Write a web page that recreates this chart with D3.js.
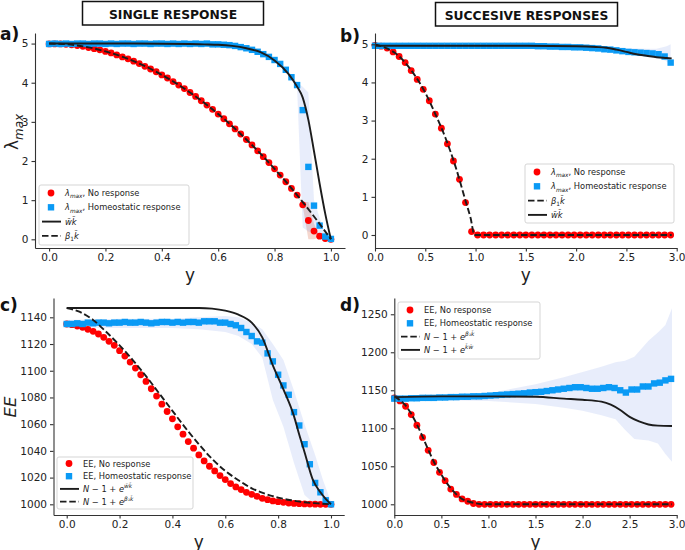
<!DOCTYPE html>
<html><head><meta charset="utf-8">
<script src="https://cdn.jsdelivr.net/npm/d3@7"></script>
<style>
body{margin:0;background:#fff;}
text{font-family:"DejaVu Sans",sans-serif;}
</style></head><body>
<svg id="chart" width="685" height="550"></svg>
<script>
// ---------------- DATA ----------------
const titles = ["SINGLE RESPONSE", "SUCCESIVE RESPONSES"];
const panelLabels = ["a)", "b)", "c)", "d)"];

// x grids
const xA = [0,0.02,0.04,0.06,0.08,0.1,0.12,0.14,0.16,0.18,0.2,0.22,0.24,0.26,0.28,0.3,0.32,0.34,0.36,0.38,0.4,0.42,0.44,0.46,0.48,0.5,0.52,0.54,0.56,0.58,0.6,0.62,0.64,0.66,0.68,0.7,0.72,0.74,0.76,0.78,0.8,0.82,0.84,0.86,0.88,0.9,0.92,0.94,0.96,0.98,1.0];
const xB = [0,0.06,0.12,0.18,0.24,0.3,0.36,0.42,0.48,0.54,0.6,0.66,0.72,0.78,0.84,0.9,0.96,1.02,1.08,1.14,1.2,1.26,1.32,1.38,1.44,1.5,1.56,1.62,1.68,1.74,1.8,1.86,1.92,1.98,2.04,2.1,2.16,2.22,2.28,2.34,2.4,2.46,2.52,2.58,2.64,2.7,2.76,2.82,2.88,2.94];

// panel a : lambda_max, single response
const redA = [4.99,4.99,4.99,4.98,4.97,4.95,4.93,4.90,4.87,4.84,4.80,4.76,4.71,4.66,4.61,4.55,4.49,4.42,4.35,4.28,4.20,4.12,4.03,3.94,3.85,3.75,3.65,3.54,3.43,3.32,3.20,3.08,2.95,2.82,2.69,2.55,2.41,2.26,2.11,1.96,1.80,1.64,1.47,1.30,1.13,0.88,0.48,0.21,0.08,0.02,0.00];
const blueA = [4.99,5.0,4.99,5.0,4.99,5.0,5.0,4.99,5.0,5.0,4.99,5.0,4.99,5.0,5.0,4.99,5.0,5.0,4.99,5.0,5.0,4.99,5.0,4.99,5.0,4.99,5.0,4.99,5.0,4.98,4.98,4.97,4.96,4.94,4.91,4.88,4.84,4.79,4.73,4.66,4.58,4.48,4.33,4.14,3.94,3.30,1.85,0.86,0.35,0.07,0.01];
const bandAx = [0,0.5,0.6,0.7,0.8,0.84,0.86,0.88,0.9,0.92,0.94,0.96,0.98,1.0];
const bandAlo = [4.96,4.96,4.95,4.85,4.55,4.3,4.1,3.85,0.3,0.2,0.15,0.1,0.02,0];
const bandAhi = [5.04,5.04,5.02,4.92,4.62,4.37,4.2,4.0,3.9,3.75,1.0,0.55,0.12,0.02];
const bandRAx = [0.88,0.9,0.92,0.94,0.96];
const bandRAlo = [1.13,0.85,0.0,0.0,0.05];
const bandRAhi = [1.13,0.95,0.95,0.4,0.1];
const solidAx = [0,0.3,0.5,0.55,0.6,0.65,0.7,0.75,0.8,0.85,0.88,0.9,0.92,0.94,0.96,0.98,1.0];
const solidAy = [5,5,4.99,4.98,4.97,4.94,4.88,4.78,4.57,4.22,3.9,3.62,3.05,2.25,1.42,0.65,0];
const dashAx = [0,0.05,0.1,0.15,0.2,0.25,0.3,0.35,0.4,0.45,0.5,0.55,0.6,0.65,0.7,0.75,0.8,0.85,0.9,0.95,1.0];
const dashAy = [5,4.99,4.95,4.89,4.8,4.69,4.55,4.39,4.2,3.99,3.75,3.49,3.2,2.89,2.55,2.19,1.8,1.39,0.95,0.49,0];

// panel b : lambda_max, successive responses
const redB = [4.97,4.95,4.9,4.8,4.68,4.52,4.31,4.08,3.82,3.52,3.17,2.80,2.39,1.94,1.46,0.85,0.09,0,0,0,0,0,0,0,0,0,0,0,0,0,0,0,0,0,0,0,0,0,0,0,0,0,0,0,0,0,0,0,0,0];
const blueB = [4.96,4.96,4.96,4.96,4.96,4.96,4.96,4.96,4.96,4.96,4.96,4.96,4.96,4.96,4.96,4.96,4.96,4.96,4.96,4.96,4.96,4.96,4.96,4.96,4.96,4.96,4.96,4.95,4.95,4.94,4.94,4.93,4.93,4.92,4.92,4.91,4.9,4.89,4.87,4.86,4.84,4.82,4.8,4.79,4.78,4.77,4.76,4.74,4.68,4.52];
const bandBx = [0,2.0,2.5,2.7,2.8,2.9,2.94];
const bandBlo = [4.93,4.88,4.76,4.72,4.68,4.55,4.45];
const bandBhi = [4.99,4.96,4.9,4.88,4.88,4.95,5.0];
const solidBx = [0,0.5,1.0,1.5,2.0,2.2,2.3,2.4,2.5,2.6,2.7,2.8,2.9,2.95];
const solidBy = [4.96,4.96,4.96,4.96,4.95,4.93,4.91,4.86,4.8,4.74,4.7,4.66,4.64,4.63];
const dashBx = [0,0.1,0.2,0.3,0.4,0.5,0.6,0.7,0.8,0.9,0.95,0.99,1.5,2.95];
const dashBy = [5.0,4.91,4.77,4.52,4.17,3.73,3.17,2.55,1.8,0.9,0.45,0,0,0];

// panel c : EE, single response
const redC = [1135,1134.5,1133.5,1132.5,1131,1129.5,1127.5,1125,1122,1119,1115,1111,1106.5,1102,1097,1092,1086.5,1081,1075,1069.5,1064,1058,1052.5,1047,1042,1037,1032.5,1028.5,1025,1021.5,1018.5,1015.5,1013,1011,1009,1007.5,1006,1004.5,1003.5,1002.5,1002,1001.5,1001,1000.7,1000.5,1000.3,1000.2,1000.1,1000,1000,1000];
const blueC = [1135,1135,1135.5,1135,1136,1135.5,1136,1136,1135.5,1136,1136,1136.5,1136,1136,1136.5,1136,1135.5,1136,1136.5,1136.5,1136,1136.5,1136,1136.5,1136.5,1136,1137,1137,1137,1136,1136,1135,1134,1132,1129,1126,1122,1121,1113,1107,1097,1089,1082,1069,1059,1045,1030,1016,1009,1003,1000];
const bandCx = [0,0.2,0.4,0.5,0.6,0.65,0.7,0.74,0.78,0.82,0.86,0.9,0.94,0.97,1.0];
const bandClo = [1132,1132,1132,1131,1129,1126,1120,1110,1078,1058,1031,1007,1000,1000,999];
const bandChi = [1138,1139,1139,1140,1141,1140,1136,1131,1120,1108,1085,1060,1037,1018,1002];
const solidCx = [0,0.3,0.5,0.55,0.6,0.65,0.7,0.74,0.78,0.82,0.86,0.88,0.9,0.93,0.96,0.98,1.0];
const solidCy = [1147,1147,1147,1146.5,1145,1142,1136,1125,1104,1086,1066,1052,1039,1019,1009,1004,1000];
const dashCx = [0,0.05,0.1,0.15,0.2,0.25,0.3,0.35,0.4,0.45,0.5,0.55,0.6,0.65,0.7,0.75,0.8,0.85,0.9,0.95,1.0];
const dashCy = [1147,1144,1138,1129,1119,1108,1096,1083,1070,1057,1045,1034,1025,1018,1012,1008,1005,1003,1001.5,1000.7,1000];

// panel d : EE, successive responses
const redD = [1140,1136,1129,1118,1104,1088,1071,1055,1042,1031,1020,1013,1007,1004,1001,1000,1000,1000,1000,1000,1000,1000,1000,1000,1000,1000,1000,1000,1000,1000,1000,1000,1000,1000,1000,1000,1000,1000,1000,1000,1000,1000,1000,1000,1000,1000,1000,1000,1000,1000];
const blueD = [1139,1139,1139,1139.5,1139.5,1140,1140,1140,1140.5,1140.5,1141,1141,1141.5,1141.5,1142,1142,1142.5,1143,1143.5,1144,1144.5,1145,1145.5,1146,1147,1147.5,1148,1149,1150,1151,1152,1153,1154,1154,1153,1152,1152,1153,1154,1153,1150,1147,1151,1151,1155,1155,1159,1160,1163,1165];
const bandDx = [0,0.5,1.0,1.5,1.8,2.0,2.2,2.35,2.45,2.55,2.7,2.8,2.88,2.95];
const bandDlo = [1137,1137,1136,1132,1127,1123,1117,1112,1098,1086,1084,1080,1066,1056];
const bandDhi = [1142,1143,1146,1158,1167,1174,1181,1187,1189,1194,1215,1226,1236,1258];
const solidDx = [0,0.5,1.0,1.5,1.8,2.0,2.2,2.3,2.4,2.5,2.6,2.7,2.8,2.95];
const solidDy = [1141,1142,1142,1141.5,1139,1137.5,1135,1131,1124,1115,1109,1105,1103.5,1103];
const dashDx = [0,0.06,0.12,0.18,0.24,0.3,0.36,0.42,0.48,0.54,0.6,0.66,0.72,0.78,0.84,0.9,0.96,1.02,2.95];
const dashDy = [1142,1137,1130,1119,1105,1089,1072,1056,1043,1031,1021,1013,1007,1004,1002,1000.5,1000,1000,1000];

// ticks
const xTicksA = [0,0.2,0.4,0.6,0.8,1.0];
const xTicksB = [0,0.5,1.0,1.5,2.0,2.5,3.0];
const yTicksA = [0,1,2,3,4,5];
const yTicksC = [1000,1020,1040,1060,1080,1100,1120,1140];
const yTicksD = [1000,1050,1100,1150,1200,1250];

// legend labels (segments: t text, it italic, sub / sup)
const L = {
  lamNo: [{t:"λ",it:1},{t:"max",it:1,sub:1},{t:", No response"}],
  lamHo: [{t:"λ",it:1},{t:"max",it:1,sub:1},{t:", Homeostatic response"}],
  wk: [{t:"w\u0304k\u0304",it:1}],
  bk: [{t:"β",it:1},{t:"1",sub:1},{t:"k\u0304",it:1}],
  eeNo: [{t:"EE, No response"}],
  eeHo: [{t:"EE, Homeostatic response"}],
  eWk: [{t:"N",it:1},{t:" − 1 + "},{t:"e",it:1},{t:"w\u0304k\u0304",it:1,sup:1}],
  eBk: [{t:"N",it:1},{t:" − 1 + "},{t:"e",it:1},{t:"β\u2081k\u0304",it:1,sup:1}],
  eKw: [{t:"N",it:1},{t:" − 1 + "},{t:"e",it:1},{t:"k\u0304w\u0304",it:1,sup:1}]
};

// ---------------- DRAWING ----------------
const RED = "#ff0000", BLUE = "#0a9af5", BAND = "#4169e1", RBAND = "#d9603b", INK = "#1c1c1c";
const svg = d3.select("#chart");

function richText(sel, segs, fs) {
  let shift = 0;
  segs.forEach(s => {
    const target = s.sub ? fs * 0.28 : s.sup ? -fs * 0.45 : 0;
    const ts = sel.append("tspan").text(s.t).attr("dy", target - shift);
    shift = target;
    if (s.sub || s.sup) ts.attr("font-size", fs * 0.7);
    if (s.it) ts.attr("font-style", "italic");
  });
}

function drawPanel(p) {
  const x = d3.scaleLinear().domain(p.xDomain).range(p.xRange);
  const y = d3.scaleLinear().domain(p.yDomain).range(p.yRange);
  const g = svg.append("g");

  p.bands.forEach(b => {
    const area = d3.area().x((d, i) => x(b.x[i])).y0((d, i) => y(b.lo[i])).y1((d, i) => y(b.hi[i]));
    g.append("path").datum(b.x).attr("d", area).attr("fill", b.color).attr("fill-opacity", b.op);
  });

  g.append("g").selectAll("circle").data(p.red).join("circle")
    .attr("cx", (d, i) => x(p.xs[i])).attr("cy", d => y(d)).attr("r", 3.4).attr("fill", RED);
  const s = 6.4;
  g.append("g").selectAll("rect").data(p.blue).join("rect")
    .attr("x", (d, i) => x(p.xs[i]) - s / 2).attr("y", d => y(d) - s / 2)
    .attr("width", s).attr("height", s).attr("fill", BLUE);

  p.lines.forEach(l => {
    const line = d3.line().x((d, i) => x(l.x[i])).y(d => y(d)).curve(d3.curveMonotoneX);
    g.append("path").datum(l.y).attr("d", line).attr("fill", "none")
      .attr("stroke", INK).attr("stroke-width", 1.9)
      .attr("stroke-dasharray", l.dash ? "6.5,2.8" : null);
  });

  const xa = g.append("g").attr("transform", `translate(0,${p.yRange[0]})`)
    .call(d3.axisBottom(x).tickValues(p.xTicks).tickFormat(d3.format(".1f")).tickSize(3.5).tickSizeOuter(0).tickPadding(2.5));
  const ya = g.append("g").attr("transform", `translate(${p.xRange[0]},0)`)
    .call(d3.axisLeft(y).tickValues(p.yTicks).tickFormat(d3.format("d")).tickSize(3.5).tickSizeOuter(0).tickPadding(3));
  [xa, ya].forEach(a => {
    a.attr("font-family", "DejaVu Sans").attr("font-size", 10.5);
    a.selectAll("path.domain").attr("stroke", "#333").attr("stroke-width", 1.1);
    a.selectAll(".tick line").attr("stroke", "#333").attr("stroke-width", 1.1);
    a.selectAll(".tick text").attr("fill", "#222");
  });

  // legend
  const lg = p.legend;
  const lgG = g.append("g");
  lgG.append("rect").attr("x", lg.x).attr("y", lg.y).attr("width", lg.w).attr("height", lg.h)
    .attr("rx", 2).attr("fill", "#fff").attr("fill-opacity", 0.85).attr("stroke", "#d0d0d0").attr("stroke-width", 0.9);
  lg.items.forEach((it, i) => {
    const cy = lg.y + lg.off + i * lg.step;
    const hx = lg.x + 12;
    if (it.kind === "red") lgG.append("circle").attr("cx", hx).attr("cy", cy).attr("r", 3.4).attr("fill", RED);
    else if (it.kind === "blue") lgG.append("rect").attr("x", hx - 3.2).attr("y", cy - 3.2).attr("width", 6.4).attr("height", 6.4).attr("fill", BLUE);
    else lgG.append("line").attr("x1", lg.x + 3).attr("x2", lg.x + 22).attr("y1", cy).attr("y2", cy)
      .attr("stroke", INK).attr("stroke-width", 1.9).attr("stroke-dasharray", it.kind === "dash" ? "6.5,2.8" : null);
    const t = lgG.append("text").attr("x", lg.x + 26).attr("y", cy + 3).attr("font-size", 8.3).attr("fill", "#222");
    richText(t, it.label, 8.3);
  });

  // x label
  g.append("text").attr("x", (p.xRange[0] + p.xRange[1]) / 2).attr("y", p.xLabelY)
    .attr("text-anchor", "middle").attr("font-size", 17).attr("fill", "#222").text("y");
  // panel label
  g.append("text").attr("x", p.tag.x).attr("y", p.tag.y).attr("font-size", 17)
    .attr("font-weight", "bold").attr("fill", "#111").text(p.tag.t);
}

// titles
[[82.5, 1.5, 181, 23.5, titles[0]], [435.5, 2.5, 182, 23.5, titles[1]]].forEach(d => {
  svg.append("rect").attr("x", d[0]).attr("y", d[1]).attr("width", d[2]).attr("height", d[3])
    .attr("fill", "none").attr("stroke", "#111").attr("stroke-width", 1.5);
  svg.append("text").attr("x", d[0] + d[2] / 2).attr("y", d[1] + 17).attr("text-anchor", "middle")
    .attr("font-size", 12.3).attr("font-weight", "bold").attr("fill", "#111").text(d[4]);
});

drawPanel({
  xs: xA, red: redA, blue: blueA,
  xDomain: [-0.05, 1.05], xRange: [35, 345], yDomain: [-0.222, 5.27], yRange: [248, 33],
  xTicks: xTicksA, yTicks: yTicksA,
  bands: [{x: bandRAx, lo: bandRAlo, hi: bandRAhi, color: RBAND, op: 0.25},
          {x: bandAx, lo: bandAlo, hi: bandAhi, color: BAND, op: 0.12}],
  lines: [{x: solidAx, y: solidAy}, {x: dashAx, y: dashAy, dash: 1}],
  legend: {x: 39, y: 185, w: 150, h: 60, off: 8, step: 14.3,
    items: [{kind: "red", label: L.lamNo}, {kind: "blue", label: L.lamHo}, {kind: "solid", label: L.wk}, {kind: "dash", label: L.bk}]},
  xLabelY: 281, tag: {x: 0, y: 40, t: panelLabels[0]}
});
drawPanel({
  xs: xB, red: redB, blue: blueB,
  xDomain: [0, 3], xRange: [375, 676.7], yDomain: [-0.341, 5.296], yRange: [248, 33],
  xTicks: xTicksB, yTicks: yTicksA,
  bands: [{x: bandBx, lo: bandBlo, hi: bandBhi, color: BAND, op: 0.12}],
  lines: [{x: solidBx, y: solidBy}, {x: dashBx, y: dashBy, dash: 1}],
  legend: {x: 525, y: 164, w: 149, h: 59, off: 8, step: 14.3,
    items: [{kind: "red", label: L.lamNo}, {kind: "blue", label: L.lamHo}, {kind: "dash", label: L.bk}, {kind: "solid", label: L.wk}]},
  xLabelY: 281, tag: {x: 340, y: 42, t: panelLabels[1]}
});
drawPanel({
  xs: xA, red: redC, blue: blueC,
  xDomain: [-0.05, 1.05], xRange: [53.5, 344.2], yDomain: [992, 1154.45], yRange: [515, 298],
  xTicks: xTicksA, yTicks: yTicksC,
  bands: [{x: bandCx, lo: bandClo, hi: bandChi, color: BAND, op: 0.12}],
  lines: [{x: solidCx, y: solidCy}, {x: dashCx, y: dashCy, dash: 1}],
  legend: {x: 57, y: 457, w: 136, h: 52, off: 6.5, step: 12.7,
    items: [{kind: "red", label: L.eeNo}, {kind: "blue", label: L.eeHo}, {kind: "solid", label: L.eWk}, {kind: "dash", label: L.eBk}]},
  xLabelY: 547.5, tag: {x: 0, y: 311, t: panelLabels[2]}
});
drawPanel({
  xs: xB, red: redD, blue: blueD,
  xDomain: [0, 3], xRange: [394.3, 676.7], yDomain: [985.9, 1271.4], yRange: [515, 298],
  xTicks: xTicksB, yTicks: yTicksD,
  bands: [{x: bandDx, lo: bandDlo, hi: bandDhi, color: BAND, op: 0.12}],
  lines: [{x: solidDx, y: solidDy}, {x: dashDx, y: dashDy, dash: 1}],
  legend: {x: 398, y: 302, w: 142, h: 57, off: 8, step: 13.3,
    items: [{kind: "red", label: L.eeNo}, {kind: "blue", label: L.eeHo}, {kind: "dash", label: L.eBk}, {kind: "solid", label: L.eKw}]},
  xLabelY: 547.5, tag: {x: 340, y: 311, t: panelLabels[3]}
});

// y axis labels
const yl1 = svg.append("text").attr("transform", "translate(18,132) rotate(-90)").attr("text-anchor", "middle")
  .attr("font-size", 17).attr("fill", "#222");
richText(yl1, [{t: "λ"}, {t: "max", it: 1, sub: 1}], 17);
svg.append("text").attr("transform", "translate(15.5,407) rotate(-90)").attr("text-anchor", "middle")
  .attr("font-size", 16.5).attr("font-style", "italic").attr("fill", "#222").text("EE");
</script></body></html>
